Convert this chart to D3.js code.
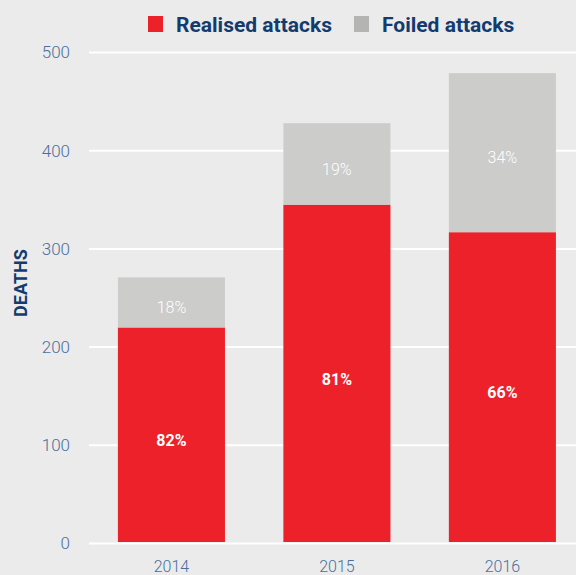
<!DOCTYPE html>
<html><head><meta charset="utf-8">
<script src="https://cdn.jsdelivr.net/npm/d3@7"></script>
<style>body{margin:0;background:#ebebeb;}svg{display:block;}</style>
</head><body>
<svg id="c" width="576" height="575"></svg>
<script>
const years = ["2014","2015","2016"];
const realised = [220, 345, 317];
const foiled = [51, 83, 162];
const realisedPct = ["82%","81%","66%"];
const foiledPct = ["18%","19%","34%"];
const yTicks = [0,100,200,300,400,500];
const legendLabels = ["Realised attacks","Foiled attacks"];

const svg = d3.select("#c");
const W = 576, H = 575;
svg.append("rect").attr("width",W).attr("height",H).attr("fill","#ebebeb");
const red = "#ed2129", grey = "#cccccb", navy = "#133b6e", tick = "#4a6f9c";
const font = "Roboto, 'Open Sans', sans-serif";

const y = d3.scaleLinear().domain([0,500]).range([543.5,52.5]);
const x = d3.scaleBand().domain(years).range([89,576]).paddingInner(0.353).paddingOuter(0.148).align(0.59);

// gridlines
svg.append("g").selectAll("line").data(yTicks).join("line")
  .attr("x1",89).attr("x2",576).attr("y1",d=>y(d)).attr("y2",d=>y(d))
  .attr("stroke","#fff").attr("stroke-width",2);

// tick labels
svg.append("g").selectAll("text").data(yTicks).join("text")
  .attr("x",70).attr("y",d=>y(d)).attr("dy","0.35em").attr("text-anchor","end")
  .attr("fill",tick).attr("font-family",font).attr("font-size",17).attr("font-weight",300)
  .text(d=>d);

const data = years.map((yr,i)=>({yr, r:realised[i], f:foiled[i], rp:realisedPct[i], fp:foiledPct[i]}));
const g = svg.append("g");
g.selectAll(".r").data(data).join("rect")
  .attr("x",d=>x(d.yr)).attr("width",x.bandwidth())
  .attr("y",d=>y(d.r)).attr("height",d=>y(0)-1.5-y(d.r)).attr("fill",red);
g.selectAll(".f").data(data).join("rect")
  .attr("x",d=>x(d.yr)).attr("width",x.bandwidth())
  .attr("y",d=>y(d.r+d.f)).attr("height",d=>y(d.r)-y(d.r+d.f)).attr("fill",grey);

g.selectAll(".rt").data(data).join("text")
  .attr("x",d=>x(d.yr)+x.bandwidth()/2).attr("y",d=>(y(d.r)+y(0))/2+5)
  .attr("dy","0.35em").attr("text-anchor","middle").attr("fill","#fff")
  .attr("font-family",font).attr("font-size",16).attr("font-weight",700).text(d=>d.rp);
g.selectAll(".ft").data(data).join("text")
  .attr("x",d=>x(d.yr)+x.bandwidth()/2).attr("y",d=>(y(d.r)+y(d.r+d.f))/2+5)
  .attr("dy","0.35em").attr("text-anchor","middle").attr("fill","#fff")
  .attr("font-family",font).attr("font-size",16).attr("font-weight",300).text(d=>d.fp);

// x labels
svg.append("g").selectAll("text").data(years).join("text")
  .attr("x",d=>x(d)+x.bandwidth()/2).attr("y",566).attr("dy","0.35em").attr("text-anchor","middle")
  .attr("fill",tick).attr("font-family",font).attr("font-size",16).attr("font-weight",300).text(d=>d);

// y title
svg.append("text").attr("transform","translate(21,283) rotate(-90)")
  .attr("text-anchor","middle").attr("dy","0.35em").attr("fill",navy).attr("font-family",font)
  .attr("font-size",18).attr("font-weight",700).text("DEATHS");

// legend
const leg = [{c:red, x:148, t:legendLabels[0]},{c:"#b4b4b3", x:354, t:legendLabels[1]}];
const lg = svg.append("g");
lg.selectAll("rect").data(leg).join("rect").attr("x",d=>d.x).attr("y",16).attr("width",15).attr("height",16).attr("fill",d=>d.c);
lg.selectAll("text").data(leg).join("text").attr("x",d=>d.x+28).attr("y",32)
  .attr("fill",navy).attr("font-family",font).attr("font-size",21).attr("font-weight",700).text(d=>d.t);
</script>
</body></html>
